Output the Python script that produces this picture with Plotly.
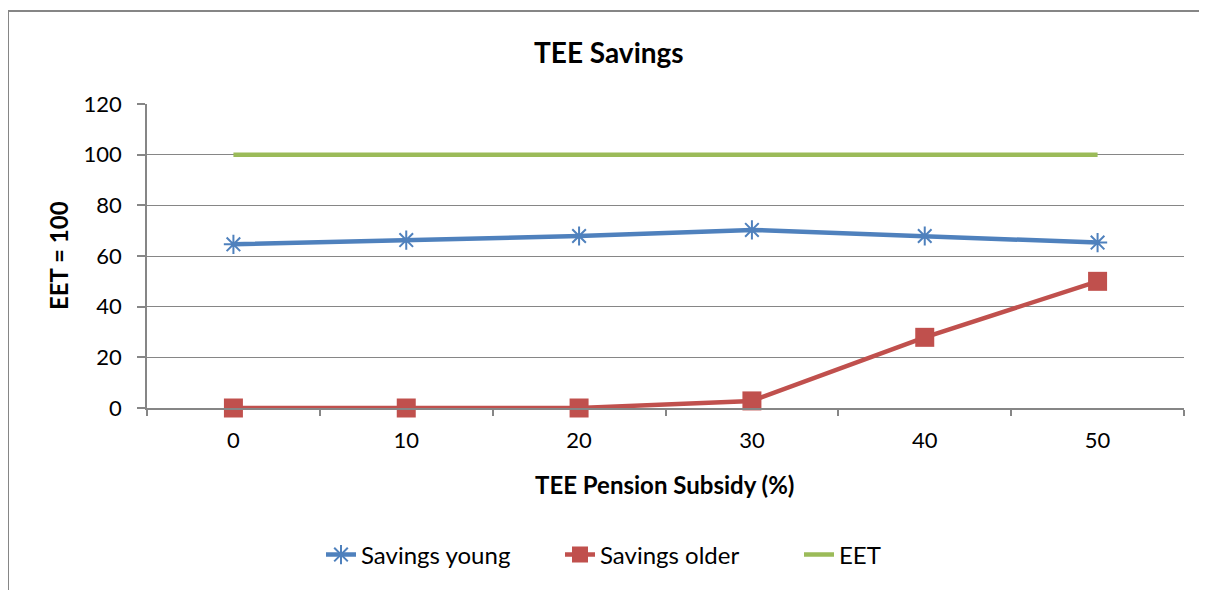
import plotly.graph_objects as go

categories = ["0", "10", "20", "30", "40", "50"]
savings_young = [64.6, 66.3, 67.9, 70.3, 67.9, 65.3]
savings_older = [0, 0, 0, 2.8, 27.9, 50.0]
eet = [100, 100, 100, 100, 100, 100]
y_ticks = [0, 20, 40, 60, 80, 100, 120]

# page body has an 8px margin, so the figure is drawn 8px smaller and offset
OFF = 8
W, H = 1207 - OFF, 590 - OFF
L, T = 147 - OFF, 104 - OFF
R = W - (1184 - OFF)
B = H - (408 - OFF)
pw = W - L - R
ph = H - T - B

def px(x):
    return (x - OFF - L) / pw

def py(y):
    return (H - B - (y - OFF)) / ph

FONT = "Lato, Open Sans, sans-serif"
GRAY = "#868686"

fig = go.Figure()
fig.add_trace(go.Scatter(
    x=categories, y=savings_young, name="Savings young", mode="lines+markers",
    line=dict(color="#4F81BD", width=4.5),
    marker=dict(symbol="asterisk-open", size=16, line=dict(color="#4F81BD", width=2)),
    cliponaxis=False,
))
fig.add_trace(go.Scatter(
    x=categories, y=savings_older, name="Savings older", mode="lines+markers",
    line=dict(color="#C0504D", width=4.5),
    marker=dict(symbol="square", size=19, color="#C0504D"),
    cliponaxis=False,
))
fig.add_trace(go.Scatter(
    x=categories, y=eet, name="EET", mode="lines",
    line=dict(color="#9BBB59", width=4.5),
    cliponaxis=False,
))

fig.update_layout(
    width=W, height=H,
    margin=dict(l=L, r=R, t=T, b=B),
    paper_bgcolor="white", plot_bgcolor="white",
    font=dict(family=FONT, size=22, color="black"),
    showlegend=True,
    legend=dict(orientation="h", x=px(321), xanchor="left", y=py(555), yanchor="middle",
                font=dict(size=24), entrywidth=194, entrywidthmode="pixels",
                tracegroupgap=0),
    xaxis=dict(
        type="category", range=[-0.5, 5.5], tickson="boundaries",
        ticks="outside", ticklen=6, tickcolor=GRAY, tickwidth=1.5,
        showline=True, linecolor=GRAY, linewidth=1.5,
        showgrid=False, ticklabelstandoff=12,
        tickfont=dict(size=22),
    ),
    yaxis=dict(
        range=[0, 120], tickvals=y_ticks, ticks="outside", ticklen=8,
        tickcolor=GRAY, tickwidth=1.5,
        showline=True, linecolor=GRAY, linewidth=1.5,
        showgrid=True, gridcolor=GRAY, gridwidth=1.4,
        zeroline=False, ticklabelstandoff=11,
        tickfont=dict(size=22),
    ),
    annotations=[
        dict(text="<b>TEE Savings</b>", x=px(609), y=py(52), xref="paper", yref="paper",
             showarrow=False, font=dict(size=28), xanchor="center", yanchor="middle"),
        dict(text="<b>TEE Pension Subsidy (%)</b>", x=px(664), y=py(484), xref="paper", yref="paper",
             showarrow=False, font=dict(size=24), xanchor="center", yanchor="middle"),
        dict(text="<b>EET = 100</b>", x=px(58), y=py(256), xref="paper", yref="paper",
             showarrow=False, font=dict(size=24), textangle=-90, xanchor="center", yanchor="middle"),
    ],
    shapes=[
        dict(type="line", xref="paper", yref="paper",
             x0=px(8), x1=px(1240), y0=py(11), y1=py(11),
             line=dict(color=GRAY, width=2), layer="below"),
        dict(type="line", xref="paper", yref="paper",
             x0=px(8), x1=px(8), y0=py(11), y1=py(640),
             line=dict(color=GRAY, width=2), layer="below"),
    ],
)

fig.write_html("out.html")
